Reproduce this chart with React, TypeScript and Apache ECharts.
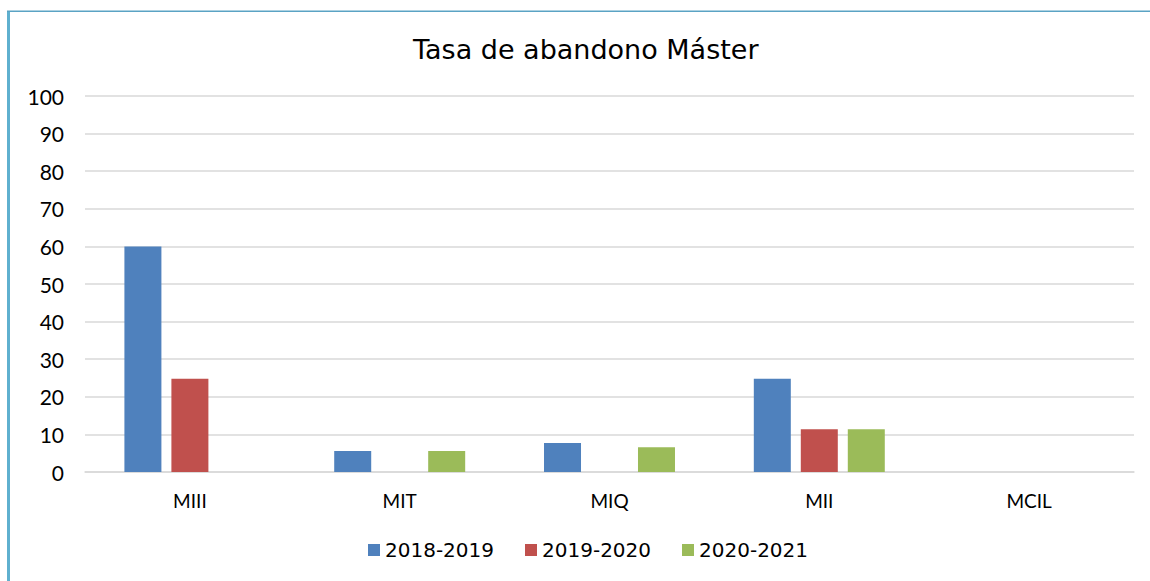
import React, { useEffect, useRef } from "react";
import * as echarts from "echarts";

const titleText = "Tasa de abandono Máster";
const categories = ["MIII", "MIT", "MIQ", "MII", "MCIL"];
const seriesNames = ["2018-2019", "2019-2020", "2020-2021"];
const values2018 = [60, 5.6, 7.7, 24.8, 0];
const values2019 = [24.8, 0, 0, 11.4, 0];
const values2020 = [0, 5.6, 6.6, 11.4, 0];
const colors = ["#4f81bd", "#c0504d", "#9bbb59"];

export default function App() {
  const ref = useRef<HTMLDivElement>(null);
  useEffect(() => {
    if (!ref.current) return;
    const chart = echarts.init(ref.current, null, { renderer: "svg" });
    const data = [values2018, values2019, values2020];
    chart.setOption({
      animation: false,
      backgroundColor: "#ffffff",
      title: {
        text: titleText,
        left: 408,
        top: 31,
        textStyle: { fontFamily: "DejaVu Sans", fontSize: 27, fontWeight: "normal", color: "#000" },
      },
      graphic: [
        { type: "rect", shape: { x: 7, y: 11, width: 3, height: 570 }, style: { fill: "#5fb0cf" } },
        { type: "rect", shape: { x: 7, y: 10.5, width: 1143, height: 1.5 }, style: { fill: "#5aa3c4" } },
      ],
      legend: {
        bottom: 16,
        left: 363,
        itemWidth: 12,
        itemHeight: 12,
        itemGap: 31,
        icon: "rect",
        textStyle: { fontFamily: "DejaVu Sans", fontSize: 20, color: "#000" },
        data: seriesNames,
      },
      grid: { left: 85, right: 16, top: 96, bottom: 109, containLabel: false },
      xAxis: {
        type: "category",
        data: categories,
        axisLine: { show: true, lineStyle: { color: "#d9d9d9", width: 1.5 } },
        axisTick: { show: false },
        axisLabel: { fontFamily: "Lato", fontSize: 19, color: "#000", margin: 19 },
      },
      yAxis: {
        type: "value",
        min: 0,
        max: 100,
        interval: 10,
        axisLine: { show: false },
        axisTick: { show: false },
        axisLabel: { fontFamily: "Lato", fontSize: 21, color: "#000", margin: 21 },
        splitLine: { lineStyle: { color: "#d9d9d9", width: 1.5 } },
      },
      series: seriesNames.map((name, i) => ({
        name,
        type: "bar",
        data: data[i],
        itemStyle: { color: colors[i] },
        barWidth: 37,
        barGap: "27%",
      })),
    });
    return () => chart.dispose();
  }, []);
  return (
    <div
      ref={ref}
      style={{ position: "fixed", left: 0, top: 0, width: 1150, height: 581 }}
    />
  );
}
